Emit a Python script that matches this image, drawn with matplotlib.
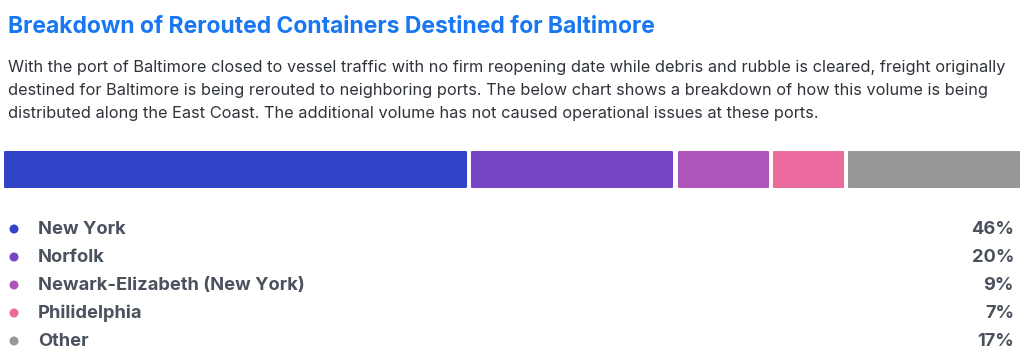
import matplotlib
matplotlib.use("Agg")
import matplotlib.pyplot as plt

categories = ["New York", "Norfolk", "Newark-Elizabeth (New York)", "Philidelphia", "Other"]
values = [46, 20, 9, 7, 17]
labels = ["46%", "20%", "9%", "7%", "17%"]
colors = ["#3143C7", "#7645C5", "#AD55B8", "#EC6B9E", "#979797"]

title = "Breakdown of Rerouted Containers Destined for Baltimore"
subtitle = ("With the port of Baltimore closed to vessel traffic with no firm reopening date while debris and rubble is cleared, freight originally\n"
            "destined for Baltimore is being rerouted to neighboring ports. The below chart shows a breakdown of how this volume is being\n"
            "distributed along the East Coast. The additional volume has not caused operational issues at these ports.")

plt.rcParams['font.family'] = ['Inter', 'DejaVu Sans']
W, H = 1024, 361
fig = plt.figure(figsize=(W / 100, H / 100), dpi=100)
fig.patch.set_facecolor("white")

# overlay axes in pixel coords
ov = fig.add_axes([0, 0, 1, 1])
ov.set_xlim(0, W)
ov.set_ylim(H, 0)
ov.axis("off")

ov.text(8, 27, title, fontsize=16.5, fontweight="bold", color="#1877F2", va="center", ha="left")
ov.text(8, 90.5, subtitle, fontsize=11.75, color="#2f333a", va="center", ha="left", linespacing=1.63)

# bar axes
bx0, bx1, by0, by1 = 4, 1020, 151, 188
bax = fig.add_axes([bx0 / W, 1 - by1 / H, (bx1 - bx0) / W, (by1 - by0) / H])
gap_px = 5
total = sum(values)
px_per_unit = ((bx1 - bx0) - gap_px * (len(values) - 1)) / total
gap = gap_px / px_per_unit
left = 0
for v, c in zip(values, colors):
    bax.barh(0, v - 0.1, left=left + 0.05, height=0.94, color=c, edgecolor=c,
             linewidth=1.5, joinstyle="round")
    left += v + gap
bax.set_xlim(0, total + gap * (len(values) - 1))
bax.set_ylim(-0.5, 0.5)
bax.axis("off")

# legend rows
row_y0, row_dy = 229, 28
for i, (cat, lab, c) in enumerate(zip(categories, labels, colors)):
    y = row_y0 + i * row_dy
    ov.scatter([14], [y], s=42, color=c, edgecolors="none")
    ov.text(38, y, cat, fontsize=13.2, fontweight="bold", color="#4a525e", va="center", ha="left")
    ov.text(1014, y, lab, fontsize=13.2, fontweight="bold", color="#4a525e", va="center", ha="right")

fig.savefig("out.png", dpi=100, facecolor="white")
